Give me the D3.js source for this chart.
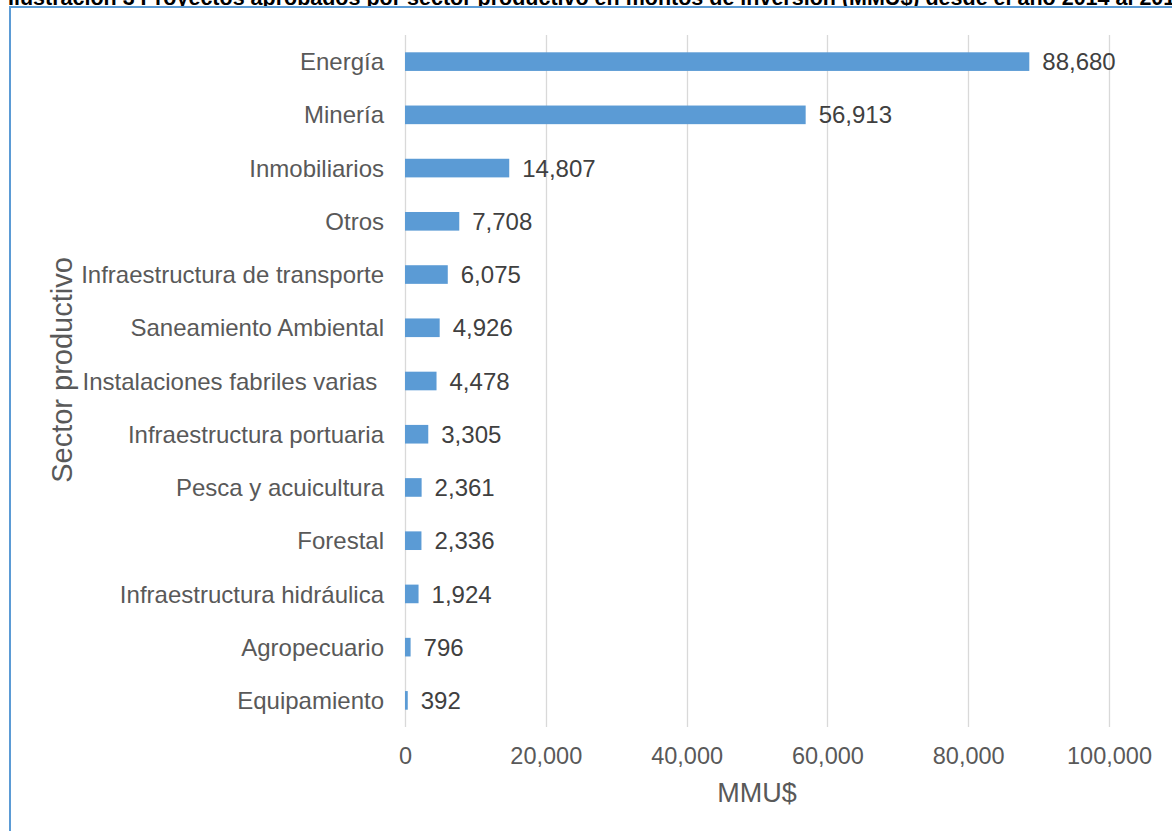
<!DOCTYPE html>
<html>
<head>
<meta charset="utf-8">
<script src="https://cdn.jsdelivr.net/npm/d3@7/dist/d3.min.js"></script>
<style>
  html, body { margin: 0; padding: 0; background: #fff; }
  svg { display: block; font-family: "Liberation Sans", Arial, sans-serif; }
</style>
</head>
<body>
<svg id="chart" width="1172" height="831"></svg>
<script>
const titleText = "Ilustración 3 Proyectos aprobados por sector productivo en montos de inversión (MMU$) desde el año 2014 al 2018";
const sectors = [
  "Energía", "Minería", "Inmobiliarios", "Otros", "Infraestructura de transporte",
  "Saneamiento Ambiental", "Instalaciones fabriles varias ", "Infraestructura portuaria",
  "Pesca y acuicultura", "Forestal", "Infraestructura hidráulica", "Agropecuario", "Equipamiento"
];
const amounts = [88680, 56913, 14807, 7708, 6075, 4926, 4478, 3305, 2361, 2336, 1924, 796, 392];
const xTicks = [0, 20000, 40000, 60000, 80000, 100000];
const xTitle = "MMU$";
const yTitle = "Sector productivo";

const svg = d3.select("#chart");
const fmt = d3.format(",");

// caption above the frame
svg.append("text")
  .attr("x", 8).attr("y", 5)
  .attr("font-size", 21.5).attr("font-weight", "bold").attr("fill", "#000")
  .style("white-space", "pre")
  .text(titleText);

// blue frame
svg.append("rect")
  .attr("x", 10).attr("y", 7)
  .attr("width", 1200).attr("height", 900)
  .attr("fill", "#fff").attr("stroke", "#5B9BD5").attr("stroke-width", 2);

const plot = { left: 405, right: 1109, top: 35, bottom: 727 };

const x = d3.scaleLinear().domain([0, 100000]).range([plot.left, plot.right]);
const y = d3.scaleBand().domain(sectors).range([plot.top, plot.bottom]).paddingInner(0.65).paddingOuter(0.325);

// vertical gridlines
svg.append("g").selectAll("line").data(xTicks).join("line")
  .attr("x1", d => Math.round(x(d)) + 0.5).attr("x2", d => Math.round(x(d)) + 0.5)
  .attr("y1", plot.top).attr("y2", plot.bottom)
  .attr("stroke", "#D9D9D9").attr("stroke-width", 1.3);

// bars
svg.append("g").selectAll("rect").data(amounts).join("rect")
  .attr("x", x(0))
  .attr("y", (d, i) => y(sectors[i]))
  .attr("width", d => x(d) - x(0))
  .attr("height", y.bandwidth())
  .attr("fill", "#5B9BD5");

// value labels
svg.append("g").selectAll("text").data(amounts).join("text")
  .attr("x", d => x(d) + 13)
  .attr("y", (d, i) => y(sectors[i]) + y.bandwidth() / 2)
  .attr("dy", "0.36em")
  .attr("font-size", 24).attr("fill", "#404040")
  .text(d => fmt(d));

// category axis
const yAxis = d3.axisLeft(y).tickSize(0).tickPadding(21);
const gy = svg.append("g").attr("transform", `translate(${plot.left},0)`).call(yAxis);
gy.select(".domain").remove();
gy.selectAll("text").attr("font-size", 24).attr("fill", "#595959").attr("font-family", null)
  .attr("dy", "0.36em").style("white-space", "pre");

// value axis
const xAxis = d3.axisBottom(x).tickValues(xTicks).tickFormat(fmt).tickSize(0).tickPadding(20);
const gx = svg.append("g").attr("transform", `translate(0,${plot.bottom})`).call(xAxis);
gx.select(".domain").remove();
gx.selectAll("text").attr("font-size", 23.5).attr("fill", "#595959").attr("font-family", null);

// axis titles
svg.append("text")
  .attr("x", 757).attr("y", 802)
  .attr("text-anchor", "middle").attr("font-size", 27).attr("fill", "#595959")
  .text(xTitle);

svg.append("text")
  .attr("transform", `translate(72,370) rotate(-90)`)
  .attr("text-anchor", "middle").attr("font-size", 29).attr("fill", "#595959")
  .text(yTitle);
</script>
</body>
</html>
